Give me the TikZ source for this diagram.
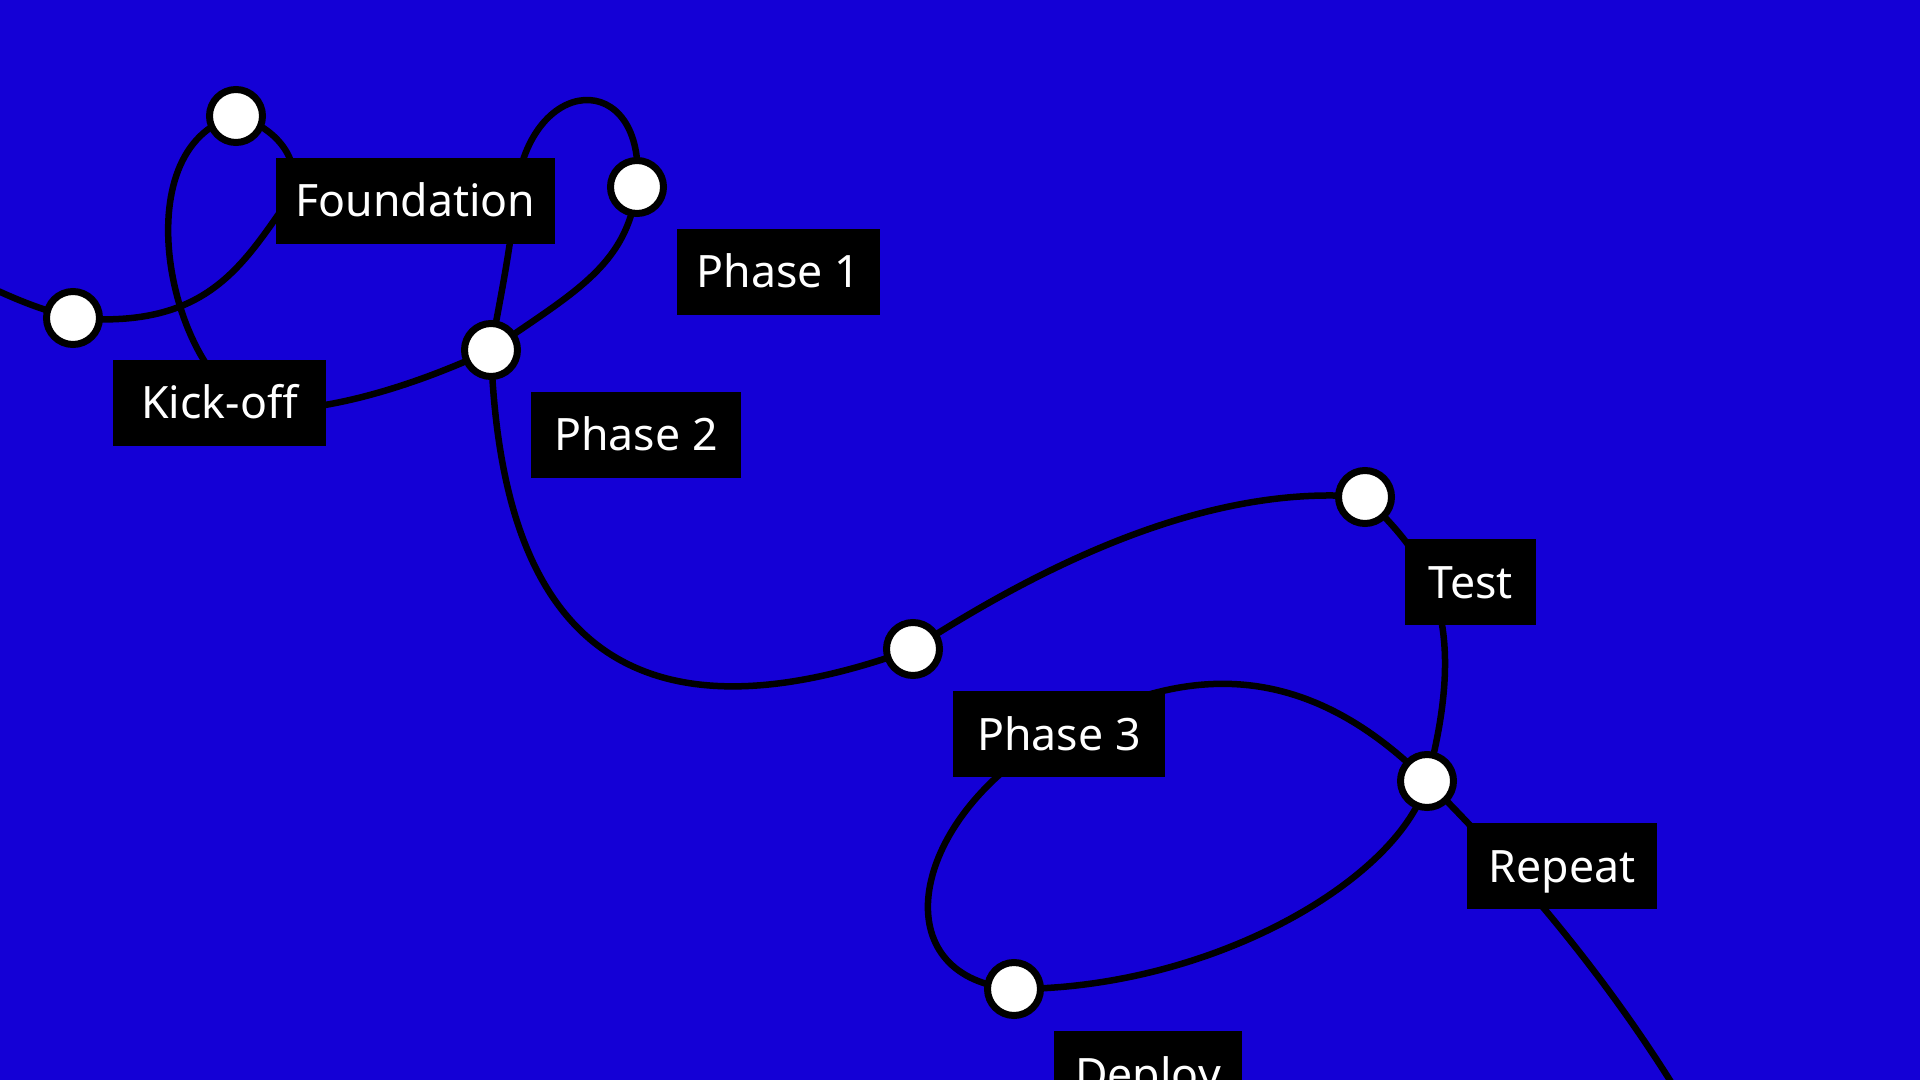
\documentclass[tikz,border=0pt]{standalone}
\usepackage{fontspec}
\usetikzlibrary{positioning,backgrounds}
\newfontfamily\tagfont{Noto Sans}
\definecolor{deepblue}{RGB}{20,0,214}

\begin{document}
\begin{tikzpicture}[
  dot/.style={circle, draw=black, fill=white, line width=0.07cm, minimum size=0.53cm, inner sep=0pt},
  tag/.style={fill=black, text=white, font=\tagfont\fontsize{12.7pt}{15pt}\selectfont,
    inner xsep=0.19cm, inner ysep=0.27cm, text height=0.32cm, text depth=0pt, outer sep=0pt,
    minimum width=#1},
  route/.style={draw=black, line width=0.065cm}]
\useasboundingbox (0,0) rectangle (19.2,-10.8);

% stops
\node[dot] (c1) at (0.73,-3.18) {};
\node[dot] (c2) at (2.36,-1.16) {};
\node[dot] (c3) at (6.37,-1.87) {};
\node[dot] (c4) at (4.91,-3.50) {};
\node[dot] (c5) at (9.13,-6.49) {};
\node[dot] (c6) at (13.65,-4.97) {};
\node[dot] (c7) at (14.27,-7.81) {};
\node[dot] (c8) at (10.14,-9.89) {};

% tags, below right of each stop
\node[tag=2.13cm, below right=0.42cm and 0.40cm of c1.center] (kickoff) {Kick-off};
\node[tag=2.79cm, below right=0.42cm and 0.40cm of c2.center] (foundation) {Foundation};
\node[tag=2.03cm, below right=0.42cm and 0.40cm of c3.center] (phase1) {Phase 1};
\node[tag=2.10cm, below right=0.42cm and 0.40cm of c4.center] (phase2) {Phase 2};
\node[tag=2.12cm, below right=0.42cm and 0.40cm of c5.center] (phase3) {Phase 3};
\node[tag=1.31cm, below right=0.42cm and 0.40cm of c6.center] (test) {Test};
\node[tag=1.90cm, below right=0.42cm and 0.40cm of c7.center] (repeat) {Repeat};
\node[tag=1.88cm, below right=0.42cm and 0.40cm of c8.center] (deploy) {Deploy};

% loose ends and bends hidden under the tags
\coordinate (intro) at (-0.30,-2.78);
\coordinate (fturn) at (2.85,-2.05);
\coordinate (kbend) at (2.55,-4.08);
\coordinate (fbend) at (5.15,-2.00);
\coordinate (pbend) at (10.28,-7.52);
\coordinate (outro) at (17.00,-11.30);

% route, behind stops and tags
\begin{scope}[on background layer]
\fill[deepblue] (0,0) rectangle (19.2,-10.8);
\draw[route] (intro) to[out=-25, in=165] (c1.center)
  to[out=-5, in=235, out distance=1.3cm, in distance=0.8cm] (fturn)
  to[out=55, in=-15, out distance=0.4cm, in distance=0.5cm] (c2.center)
  to[out=195, in=160, out distance=1.2cm, in distance=0.9cm] (kbend)
  to[out=-10, in=205, out distance=0.4cm, in distance=1.2cm] (c4.center)
  to[out=35, in=263, out distance=1cm, in distance=0.8cm] (c3.center)
  to[out=85, in=85, out distance=1.2cm, in distance=1.3cm] (fbend)
  to[out=-95, in=80, out distance=0.5cm, in distance=0.5cm] (c4.center)
  to[out=-88, in=200, out distance=2.2cm, in distance=3.6cm] (c5.center)
  to[out=33, in=175, out distance=2.2cm, in distance=1.2cm] (c6.center)
  to[out=-45, in=75, out distance=0.8cm, in distance=1.8cm] (c7.center)
  to[out=255, in=0, out distance=1cm, in distance=2cm] (c8.center)
  to[out=175, in=215, out distance=1.25cm, in distance=1.5cm] (pbend)
  to[out=33, in=135, out distance=1.7cm, in distance=1.8cm] (c7.center)
  to[out=-45, in=120, out distance=2cm, in distance=1cm] (outro);
\end{scope}
\end{tikzpicture}
\end{document}
